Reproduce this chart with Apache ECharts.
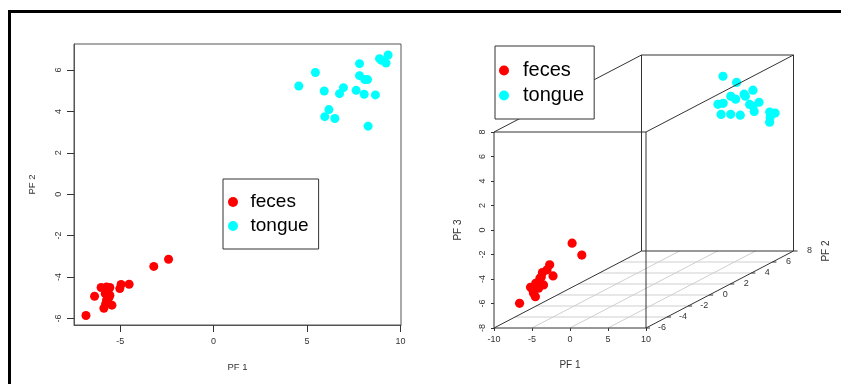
<!DOCTYPE html>
<html><head><meta charset="utf-8">
<script src="https://cdn.jsdelivr.net/npm/echarts@6/dist/echarts.min.js"></script>
<style>html,body{margin:0;padding:0;background:#fff}#c{width:841px;height:384px}</style>
</head><body><div id="c"></div>
<script>
// ---- data ----
const seriesNames = ['feces', 'tongue'];
const fecesPF1 = [-6.83, -6.37, -6.02, -5.87, -5.73, -5.55, -5.80, -5.55, -5.73, -5.44, -5.02, -4.95, -4.52, -3.20, -2.41, -5.65, -5.60, -5.78];
const fecesPF2 = [-5.86, -4.93, -4.51, -5.51, -4.48, -4.51, -4.80, -4.88, -5.12, -5.36, -4.56, -4.36, -4.35, -3.49, -3.14, -4.65, -5.00, -5.30];
const fecesPF3 = [-6.05, -5.37, -4.60, -4.90, -4.16, -5.15, -5.29, -4.85, -4.74, -5.73, -3.90, -3.58, -4.49, -2.20, -3.33, -4.45, -5.05, -5.45];
const tonguePF1 = [4.56, 5.45, 5.92, 6.17, 5.95, 6.49, 6.74, 6.95, 7.63, 7.81, 7.81, 8.09, 8.24, 8.06, 8.66, 8.27, 8.88, 8.98, 9.23, 9.34];
const tonguePF2 = [5.23, 5.88, 4.99, 4.09, 3.75, 3.66, 4.86, 5.15, 5.02, 6.31, 5.73, 5.54, 5.54, 4.83, 4.80, 3.29, 6.55, 6.47, 6.34, 6.73];
const tonguePF3 = [7.51, 6.71, 5.98, 5.81, 5.88, 5.10, 5.80, 4.37, 6.14, 4.90, 6.15, 4.92, 4.50, 6.06, 5.40, 5.27, 4.00, 3.20, 3.67, 3.83];
const xTicks2d = [-5, 0, 5, 10];
const yTicks2d = [-6, -4, -2, 0, 2, 4, 6];
const xRange3d = [-10, 10];
const yRange3d = [-6, 8];
const zRange3d = [-8, 8];
const xTicks3d = [-10, -5, 0, 5, 10];
const yTicks3d = [-6, -4, -2, 0, 2, 4, 6, 8];
const axisNames = ['PF 1', 'PF 2', 'PF 3'];

// ---- layout / style ----
const FONT = "'Liberation Sans', Arial, sans-serif";
const RED = '#FF0000', CYAN = '#00FFFF';
const DEPTH = [147.5, -77]; // pixel offset of the back face (PF 2 direction)
const pts2d = (a, b) => a.map((v, i) => [v, b[i]]);
const pts3d = (a, b, c) => a.map((v, i) => [v, b[i], c[i]]);

function proj(api, x, y, z) {
  const p = api.coord([x, z]);
  const t = (y - yRange3d[0]) / (yRange3d[1] - yRange3d[0]);
  return [p[0] + t * DEPTH[0], p[1] + t * DEPTH[1]];
}
function seg(api, a, b, color, w) {
  const p = proj(api, a[0], a[1], a[2]);
  const q = proj(api, b[0], b[1], b[2]);
  return { type: 'line', shape: { x1: p[0], y1: p[1], x2: q[0], y2: q[1] }, style: { stroke: color, lineWidth: w || 1 } };
}

function renderPoint(color) {
  return function (params, api) {
    const p = proj(api, api.value(0), api.value(1), api.value(2));
    return { type: 'circle', shape: { cx: p[0], cy: p[1], r: 4.6 }, style: { fill: color } };
  };
}

function renderPlane(params, api) {
  const [x0, x1] = xRange3d, [y0, y1] = yRange3d, z0 = zRange3d[0];
  const ch = [];
  yTicks3d.forEach(y => { if (y > y0 && y < y1) ch.push(seg(api, [x0, y, z0], [x1, y, z0], '#cfcfcf', 1)); });
  xTicks3d.forEach(x => { if (x > x0 && x < x1) ch.push(seg(api, [x, y0, z0], [x, y1, z0], '#cfcfcf', 1)); });
  return { type: 'group', children: ch };
}

function renderBox(params, api) {
  const [x0, x1] = xRange3d, [y0, y1] = yRange3d, [z0, z1] = zRange3d;
  const c = '#333';
  const ch = [];
  // front face
  ch.push(seg(api, [x0, y0, z0], [x1, y0, z0], c));
  ch.push(seg(api, [x0, y0, z1], [x1, y0, z1], c));
  ch.push(seg(api, [x0, y0, z0], [x0, y0, z1], c));
  ch.push(seg(api, [x1, y0, z0], [x1, y0, z1], c));
  // back face
  ch.push(seg(api, [x0, y1, z0], [x1, y1, z0], c));
  ch.push(seg(api, [x0, y1, z1], [x1, y1, z1], c));
  ch.push(seg(api, [x0, y1, z0], [x0, y1, z1], c));
  ch.push(seg(api, [x1, y1, z0], [x1, y1, z1], c));
  // connecting edges
  ch.push(seg(api, [x0, y0, z0], [x0, y1, z0], c));
  ch.push(seg(api, [x1, y0, z0], [x1, y1, z0], c));
  ch.push(seg(api, [x0, y0, z1], [x0, y1, z1], c));
  ch.push(seg(api, [x1, y0, z1], [x1, y1, z1], c));
  // PF 2 axis ticks and labels
  yTicks3d.forEach(y => {
    const p = proj(api, x1, y, z0);
    ch.push({ type: 'line', shape: { x1: p[0], y1: p[1], x2: p[0] + 4, y2: p[1] }, style: { stroke: c, lineWidth: 1 } });
    ch.push({ type: 'text', x: p[0] + 16, y: p[1], style: { text: String(y), fill: '#333', font: '9px ' + FONT, align: 'center', verticalAlign: 'middle' } });
  });
  const pn = proj(api, x1, y1, z0);
  ch.push({ type: 'text', x: pn[0] + 33, y: pn[1], rotation: Math.PI / 2, style: { text: axisNames[1], fill: '#333', font: '10px ' + FONT, align: 'center', verticalAlign: 'middle' } });
  return { type: 'group', children: ch };
}

const chart = echarts.init(document.getElementById('c'), null, { renderer: 'canvas' });
const tickLabel = { fontSize: 9, color: '#333', fontFamily: FONT };
const nameStyle = { fontSize: 9.5, color: '#333', fontFamily: FONT };
const legendBase = {
  orient: 'vertical', data: seriesNames, icon: 'circle', itemGap: 4,
  borderColor: '#333', borderWidth: 1, backgroundColor: '#fff', selectedMode: false,
  z: 10
};
chart.setOption({
  animation: false,
  backgroundColor: '#fff',
  textStyle: { fontFamily: FONT },
  graphic: [
    { type: 'rect', shape: { x: 8, y: 10, width: 834, height: 3 }, style: { fill: '#000' }, z: 20 },
    { type: 'rect', shape: { x: 8, y: 10, width: 3, height: 374 }, style: { fill: '#000' }, z: 20 }
  ],
  legend: [
    Object.assign({}, legendBase, {
      left: 223, top: 179, itemWidth: 25, itemHeight: 10, padding: [13, 10, 13, 5],
      textStyle: { fontSize: 19, lineHeight: 20, color: '#000', fontFamily: FONT }
    }),
    Object.assign({}, legendBase, {
      left: 495, top: 46, itemWidth: 28, itemHeight: 10, padding: [14, 10, 13, 4],
      textStyle: { fontSize: 20, lineHeight: 21, color: '#000', fontFamily: FONT }
    })
  ],
  grid: [
    { left: 74, top: 44, width: 327, height: 281, show: true, borderColor: '#555', borderWidth: 1 },
    { left: 494, top: 132, width: 152, height: 196, show: false }
  ],
  xAxis: [
    {
      gridIndex: 0, type: 'value', min: -7.47, max: 10.03,
      axisLine: { show: true, onZero: false, lineStyle: { color: '#555' } },
      axisTick: { show: true, length: 7, customValues: xTicks2d, lineStyle: { color: '#333' } },
      axisLabel: Object.assign({ customValues: xTicks2d, margin: 12 }, tickLabel),
      splitLine: { show: false },
      name: axisNames[0], nameLocation: 'middle', nameGap: 37, nameTextStyle: nameStyle
    },
    {
      gridIndex: 1, type: 'value', min: xRange3d[0], max: xRange3d[1], interval: 5,
      axisLine: { show: false, onZero: false },
      axisTick: { show: true, length: 3, lineStyle: { color: '#333' } },
      axisLabel: Object.assign({ margin: 7 }, tickLabel),
      splitLine: { show: false },
      name: axisNames[0], nameLocation: 'middle', nameGap: 32, nameTextStyle: { fontSize: 10, color: '#333', fontFamily: FONT }
    }
  ],
  yAxis: [
    {
      gridIndex: 0, type: 'value', min: -6.32, max: 7.26,
      axisLine: { show: true, onZero: false, lineStyle: { color: '#555' } },
      axisTick: { show: true, length: 7, customValues: yTicks2d, lineStyle: { color: '#333' } },
      axisLabel: Object.assign({ customValues: yTicks2d, margin: 11, rotate: 90 }, tickLabel),
      splitLine: { show: false },
      name: axisNames[1], nameLocation: 'middle', nameGap: 37, nameRotate: 90, nameTextStyle: nameStyle
    },
    {
      gridIndex: 1, type: 'value', min: zRange3d[0], max: zRange3d[1], interval: 2,
      axisLine: { show: false, onZero: false },
      axisTick: { show: true, length: 3, lineStyle: { color: '#333' } },
      axisLabel: Object.assign({ margin: 7, rotate: 90 }, tickLabel),
      splitLine: { show: false },
      name: axisNames[2], nameLocation: 'middle', nameGap: 31, nameRotate: 90, nameTextStyle: { fontSize: 10, color: '#333', fontFamily: FONT }
    }
  ],
  series: [
    { name: seriesNames[0], type: 'scatter', xAxisIndex: 0, yAxisIndex: 0, symbol: 'circle', symbolSize: 9,
      itemStyle: { color: RED, opacity: 1 }, data: pts2d(fecesPF1, fecesPF2), z: 3 },
    { name: seriesNames[1], type: 'scatter', xAxisIndex: 0, yAxisIndex: 0, symbol: 'circle', symbolSize: 9,
      itemStyle: { color: CYAN, opacity: 1 }, data: pts2d(tonguePF1, tonguePF2), z: 3 },
    { name: 'plane', type: 'custom', xAxisIndex: 1, yAxisIndex: 1, renderItem: renderPlane, data: [[0, 0]],
      encode: { x: 0, y: 1 }, z: 1, silent: true },
    { name: seriesNames[0], type: 'custom', xAxisIndex: 1, yAxisIndex: 1, renderItem: renderPoint(RED),
      itemStyle: { color: RED }, data: pts3d(fecesPF1, fecesPF2, fecesPF3), encode: { x: 0, y: 2 }, z: 2 },
    { name: seriesNames[1], type: 'custom', xAxisIndex: 1, yAxisIndex: 1, renderItem: renderPoint(CYAN),
      itemStyle: { color: CYAN }, data: pts3d(tonguePF1, tonguePF2, tonguePF3), encode: { x: 0, y: 2 }, z: 2 },
    { name: 'box', type: 'custom', xAxisIndex: 1, yAxisIndex: 1, renderItem: renderBox, data: [[0, 0]],
      encode: { x: 0, y: 1 }, z: 3, silent: true }
  ]
});
</script></body></html>
